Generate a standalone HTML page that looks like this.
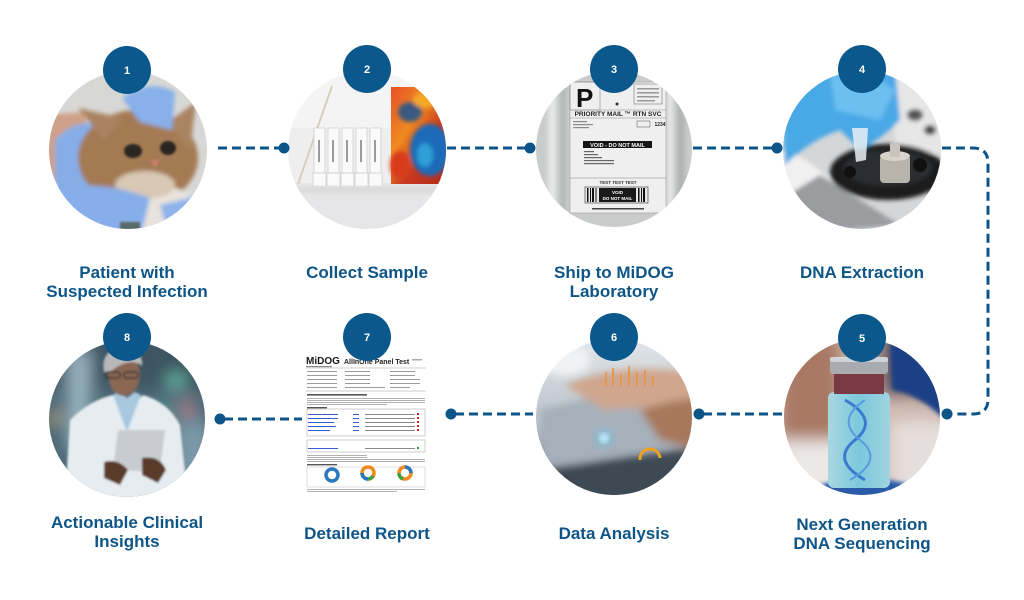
<!DOCTYPE html>
<html><head><meta charset="utf-8">
<style>
html,body{margin:0;padding:0;background:#fff;width:1024px;height:600px;overflow:hidden;}
svg{display:block;}
.lbl{font-family:"Liberation Sans",Arial,sans-serif;font-weight:bold;font-size:17px;fill:#0e5587;text-anchor:middle;}
.num{font-family:"Liberation Sans",Arial,sans-serif;font-weight:bold;font-size:11px;fill:#fff;text-anchor:middle;}
.tiny{font-family:"Liberation Sans",Arial,sans-serif;font-weight:bold;}
</style></head><body>
<svg width="1024" height="600" viewBox="0 0 1024 600" xmlns="http://www.w3.org/2000/svg">
<defs>
<clipPath id="c1"><circle cx="128" cy="150" r="79"/></clipPath>
<clipPath id="c2"><circle cx="367" cy="150" r="79"/></clipPath>
<clipPath id="c3"><circle cx="614" cy="149" r="78"/></clipPath>
<clipPath id="c4"><circle cx="862" cy="150" r="79"/></clipPath>
<clipPath id="c5"><circle cx="862" cy="417" r="78"/></clipPath>
<clipPath id="c6"><circle cx="614" cy="417" r="78"/></clipPath>
<clipPath id="c8"><circle cx="127" cy="419" r="78"/></clipPath>
<filter id="b1"><feGaussianBlur stdDeviation="1"/></filter>
<filter id="b2"><feGaussianBlur stdDeviation="2"/></filter>
<filter id="b4"><feGaussianBlur stdDeviation="4"/></filter>
<filter id="b8"><feGaussianBlur stdDeviation="8"/></filter>
<linearGradient id="parrot" x1="0" y1="0" x2="1" y2="1">
<stop offset="0" stop-color="#e8502a"/><stop offset="0.35" stop-color="#f08a20"/><stop offset="0.6" stop-color="#c83a20"/><stop offset="1" stop-color="#b02818"/>
</linearGradient>
<linearGradient id="lap" x1="0" y1="0" x2="0" y2="1">
<stop offset="0" stop-color="#e4e8ec"/><stop offset="0.55" stop-color="#b8c0c8"/><stop offset="1" stop-color="#56606a"/>
</linearGradient>
<linearGradient id="vial" x1="0" y1="0" x2="1" y2="0">
<stop offset="0" stop-color="#a8d8e0"/><stop offset="0.5" stop-color="#7cc8dc"/><stop offset="1" stop-color="#a0d4e0"/>
</linearGradient>
</defs>

<!-- ============ CIRCLE 1: cat ============ -->
<g clip-path="url(#c1)">
<rect x="45" y="65" width="170" height="170" fill="#d7d8d6"/>
<g filter="url(#b2)">
<path d="M45 115 L85 112 L90 175 L45 185Z" fill="#cfa088"/>
<path d="M55 140 Q75 118 98 125 L108 195 L55 205Z" fill="#86ade6"/>
<ellipse cx="138" cy="158" rx="60" ry="48" fill="#a47a52"/>
<path d="M78 108 L104 140 L122 118Z" fill="#aa8462"/>
<path d="M196 102 L168 122 L190 150Z" fill="#aa8462"/>
<ellipse cx="150" cy="210" rx="48" ry="26" fill="#e8e3dc"/>
<ellipse cx="145" cy="185" rx="30" ry="14" fill="#d8c8b4"/>
<path d="M122 98 Q150 78 175 92 L172 130 L140 122Z" fill="#88b0ea"/>
<path d="M45 195 Q90 175 150 198 L140 240 L45 240Z" fill="#86aeea"/>
<path d="M160 205 L200 195 L210 240 L170 240Z" fill="#8fb4ea"/>
</g>
<g filter="url(#b1)">
<ellipse cx="133" cy="151" rx="9" ry="7" fill="#2a2620"/>
<ellipse cx="168" cy="148" rx="8" ry="7" fill="#2a2620"/>
<path d="M150 160 L160 160 L155 168Z" fill="#c8806e"/>
<rect x="120" y="222" width="20" height="10" fill="#5a6a68"/>
</g>
</g>

<!-- ============ CIRCLE 2: sample kit ============ -->
<g clip-path="url(#c2)">
<rect x="285" y="68" width="165" height="165" fill="#eeeeee"/>
<rect x="285" y="68" width="165" height="60" fill="#f4f4f4"/>
<rect x="285" y="183" width="165" height="50" fill="#e6e6e8"/>
<line x1="332" y1="86" x2="298" y2="184" stroke="#d8cdb8" stroke-width="2"/>
<g fill="#fafafa" stroke="#cfcfcf" stroke-width="0.8">
<rect x="314" y="128" width="11" height="45"/>
<rect x="328" y="128" width="11" height="45"/>
<rect x="342" y="128" width="11" height="45"/>
<rect x="356" y="128" width="11" height="45"/>
<rect x="370" y="128" width="11" height="45"/>
<rect x="313" y="173" width="13" height="14"/>
<rect x="327" y="173" width="13" height="14"/>
<rect x="341" y="173" width="13" height="14"/>
<rect x="355" y="173" width="13" height="14"/>
<rect x="369" y="173" width="13" height="14"/>
</g>
<g fill="#9a9a9a">
<rect x="318" y="140" width="2" height="22"/><rect x="332" y="140" width="2" height="22"/><rect x="346" y="140" width="2" height="22"/><rect x="360" y="140" width="2" height="22"/><rect x="374" y="140" width="2" height="22"/>
</g>
<rect x="391" y="87" width="60" height="97" fill="url(#parrot)"/>
<g filter="url(#b2)">
<ellipse cx="410" cy="112" rx="12" ry="10" fill="#3a5a80"/>
<ellipse cx="430" cy="150" rx="20" ry="26" fill="#1e6ab8"/>
<ellipse cx="425" cy="155" rx="8" ry="12" fill="#2fa0d8"/>
<ellipse cx="400" cy="165" rx="10" ry="14" fill="#d83a1c"/>
<ellipse cx="425" cy="100" rx="12" ry="8" fill="#f4a828"/>
</g>
<rect x="290" y="186" width="150" height="8" fill="#dcdcdc" filter="url(#b2)"/>
</g>

<!-- ============ CIRCLE 3: shipping label ============ -->
<g clip-path="url(#c3)">
<rect x="536" y="70" width="160" height="160" fill="#c9ccca"/>
<g filter="url(#b2)">
<rect x="548" y="70" width="8" height="160" fill="#e6e8e6"/>
<rect x="560" y="70" width="6" height="160" fill="#b4b8b6"/>
<rect x="667" y="70" width="6" height="160" fill="#e4e6e4"/>
<rect x="677" y="70" width="8" height="160" fill="#b0b4b2"/>
</g>
<rect x="570" y="82" width="96" height="131" fill="#efefef" stroke="#9a9a9a" stroke-width="0.6"/>
<rect x="570" y="82" width="30" height="28" fill="none" stroke="#888" stroke-width="0.6"/>
<text x="576" y="107" class="tiny" font-size="26" fill="#111">P</text>
<rect x="634" y="84" width="28" height="20" fill="none" stroke="#777" stroke-width="0.6"/>
<g fill="#999"><rect x="637" y="88" width="22" height="1.5"/><rect x="637" y="92" width="22" height="1.5"/><rect x="637" y="96" width="22" height="1.5"/><rect x="637" y="100" width="18" height="1.5"/></g>
<circle cx="617" cy="104" r="1.5" fill="#333"/>
<line x1="570" y1="110" x2="666" y2="110" stroke="#888" stroke-width="0.6"/>
<text x="618" y="116" class="tiny" font-size="6.5" fill="#222" text-anchor="middle">PRIORITY MAIL ™ RTN SVC</text>
<line x1="570" y1="118" x2="666" y2="118" stroke="#888" stroke-width="0.6"/>
<g fill="#8a8a8a"><rect x="573" y="121" width="14" height="1.2"/><rect x="573" y="124" width="20" height="1.2"/><rect x="573" y="127" width="16" height="1.2"/></g>
<rect x="637" y="121" width="13" height="6" fill="none" stroke="#555" stroke-width="0.5"/>
<text x="660" y="126" class="tiny" font-size="5" fill="#222" text-anchor="middle">1234</text>
<rect x="583" y="141" width="69" height="7" fill="#151515"/>
<text x="617.5" y="146.8" class="tiny" font-size="5.5" fill="#fff" text-anchor="middle">VOID - DO NOT MAIL</text>
<g fill="#666"><rect x="584" y="151" width="10" height="1.2"/><rect x="584" y="154" width="14" height="1.2"/><rect x="584" y="157" width="18" height="1.2"/><rect x="584" y="160" width="30" height="1.2"/><rect x="584" y="163" width="30" height="1.2"/></g>
<line x1="570" y1="178" x2="666" y2="178" stroke="#888" stroke-width="0.6"/>
<text x="618" y="184" class="tiny" font-size="4.5" fill="#333" text-anchor="middle">TEST TEST TEST</text>
<rect x="585" y="187" width="63" height="16" fill="#e8e8e8" stroke="#333" stroke-width="0.6"/>
<g fill="#111"><rect x="587" y="188" width="1.5" height="14"/><rect x="590" y="188" width="1" height="14"/><rect x="592" y="188" width="2" height="14"/><rect x="595.5" y="188" width="1" height="14"/><rect x="638" y="188" width="1.5" height="14"/><rect x="641" y="188" width="1" height="14"/><rect x="643" y="188" width="2" height="14"/></g>
<rect x="599" y="188" width="37" height="14" fill="#1a1a1a"/>
<text x="617.5" y="194" class="tiny" font-size="4.5" fill="#fff" text-anchor="middle">VOID</text>
<text x="617.5" y="200" class="tiny" font-size="4.5" fill="#fff" text-anchor="middle">DO NOT MAIL</text>
<rect x="592" y="208" width="52" height="1.5" fill="#444"/>
</g>

<!-- ============ CIRCLE 4: DNA extraction ============ -->
<g clip-path="url(#c4)">
<rect x="780" y="68" width="165" height="165" fill="#d4d6d8"/>
<g filter="url(#b2)">
<rect x="895" y="68" width="50" height="85" fill="#e6e6e6"/>
<ellipse cx="915" cy="115" rx="8" ry="6" fill="#555"/>
<ellipse cx="930" cy="130" rx="6" ry="5" fill="#444"/>
<path d="M780 150 Q820 160 845 200 L830 235 L780 235Z" fill="#f0f0f0"/>
<path d="M820 175 Q860 200 900 225 L780 235 L780 200Z" fill="#9a9ca0"/>
<ellipse cx="888" cy="172" rx="58" ry="28" fill="#1c1c1e"/>
<ellipse cx="888" cy="168" rx="44" ry="18" fill="#2c2e30"/>
<path d="M780 68 L895 68 L900 120 Q880 140 860 150 L840 130 Q810 140 785 165Z" fill="#4aa8e6"/>
<path d="M830 72 Q870 70 895 90 L880 120 L835 110Z" fill="#6cc0f0"/>
</g>
<circle cx="920" cy="165" r="7" fill="#111"/><circle cx="850" cy="172" r="6" fill="#111"/>
<rect x="880" y="155" width="30" height="28" rx="4" fill="#b8b4ac"/>
<ellipse cx="895" cy="156" rx="15" ry="5" fill="#d8d4cc"/>
<rect x="890" y="143" width="10" height="14" fill="#c8c4bc"/>
<path d="M852 128 L868 128 L866 160 L856 162Z" fill="#e8eef2" opacity="0.85"/>
</g>

<!-- ============ CIRCLE 5: NGS vial ============ -->
<g clip-path="url(#c5)">
<rect x="780" y="335" width="165" height="165" fill="#cdb8ae"/>
<g filter="url(#b8)">
<rect x="780" y="335" width="60" height="110" fill="#a87864"/>
<rect x="780" y="440" width="70" height="60" fill="#ece8e6"/>
<rect x="890" y="420" width="60" height="80" fill="#e6dedc"/>
<rect x="880" y="335" width="60" height="60" fill="#6a5a60"/>
</g>
<g filter="url(#b2)">
<path d="M890 340 Q930 350 945 400 L945 420 Q920 395 892 390Z" fill="#1d3f86"/>
<path d="M820 485 Q870 470 920 488 L920 500 L820 500Z" fill="#2a5aa8"/>
</g>
<rect x="828" y="392" width="62" height="96" rx="6" fill="url(#vial)"/>
<rect x="834" y="372" width="50" height="22" fill="#7a3a44"/>
<rect x="830" y="357" width="58" height="17" rx="3" fill="#a8acb0"/>
<rect x="830" y="357" width="58" height="5" rx="2" fill="#d0d4d8"/>
<path d="M845 400 Q880 420 855 440 Q830 460 865 480" fill="none" stroke="#3a7ad0" stroke-width="3"/>
<path d="M865 400 Q835 420 860 440 Q885 460 850 480" fill="none" stroke="#5a9ae0" stroke-width="2"/>
</g>

<!-- ============ CIRCLE 6: data analysis ============ -->
<g clip-path="url(#c6)">
<rect x="530" y="335" width="170" height="165" fill="url(#lap)"/>
<g filter="url(#b4)">
<path d="M540 410 L700 372 L700 440 L545 470Z" fill="#a6b0ba"/>
<path d="M565 385 Q620 362 690 372 L695 412 Q645 405 605 410Z" fill="#d0a68c"/>
<path d="M640 410 Q670 400 700 398 L700 450 L660 440Z" fill="#a8785c"/>
<path d="M530 470 L700 448 L700 500 L530 500Z" fill="#3e4852"/>
<ellipse cx="565" cy="360" rx="25" ry="16" fill="#f0f2f4"/>
</g>
<g fill="#e8944a" opacity="0.85">
<rect x="605" y="372" width="2" height="14"/><rect x="612" y="368" width="2" height="18"/><rect x="620" y="374" width="2" height="12"/><rect x="628" y="366" width="2" height="20"/><rect x="636" y="372" width="2" height="14"/><rect x="644" y="370" width="2" height="16"/><rect x="652" y="376" width="2" height="10"/>
</g>
<circle cx="604" cy="438" r="5" fill="#e8f8ff" filter="url(#b2)"/>
<circle cx="604" cy="438" r="10" fill="#6ac8f0" opacity="0.4" filter="url(#b4)"/>
<path d="M640 460 A10 10 0 0 1 660 458" fill="none" stroke="#f0a020" stroke-width="3"/>
</g>

<!-- ============ 7: report ============ -->
<g>
<rect x="306" y="355" width="120" height="137" fill="#ffffff"/>
<text x="306" y="364" class="tiny" font-size="10" fill="#1a1a1a">MiDOG</text>
<rect x="306" y="366" width="26" height="1.2" fill="#888"/>
<text x="344" y="364" class="tiny" font-size="7" fill="#222">AllInOne Panel Test</text>
<rect x="412" y="359" width="10" height="1.5" fill="#aaa"/>
<line x1="306" y1="368" x2="426" y2="368" stroke="#999" stroke-width="0.5"/>
<g fill="#9a9a9a">
<rect x="307" y="371" width="30" height="1"/><rect x="345" y="371" width="25" height="1"/><rect x="390" y="371" width="25" height="1"/>
<rect x="307" y="375" width="30" height="1"/><rect x="345" y="375" width="25" height="1"/><rect x="390" y="375" width="25" height="1"/>
<rect x="307" y="379" width="30" height="1"/><rect x="345" y="379" width="25" height="1"/><rect x="390" y="379" width="30" height="1"/>
<rect x="307" y="383" width="30" height="1"/><rect x="345" y="383" width="25" height="1"/><rect x="390" y="383" width="30" height="1"/>
<rect x="307" y="387" width="30" height="1"/><rect x="345" y="387" width="40" height="1"/><rect x="390" y="387" width="20" height="1"/>
</g>
<line x1="306" y1="391" x2="426" y2="391" stroke="#999" stroke-width="0.5"/>
<rect x="307" y="394" width="60" height="1.6" fill="#555"/>
<g fill="#aaa"><rect x="307" y="398" width="118" height="0.9"/><rect x="307" y="400" width="118" height="0.9"/><rect x="307" y="402" width="118" height="0.9"/><rect x="307" y="404" width="80" height="0.9"/></g>
<rect x="307" y="407" width="20" height="1.4" fill="#555"/>
<rect x="307" y="409" width="118" height="27" fill="none" stroke="#999" stroke-width="0.5"/>
<g fill="#3a5ad0"><rect x="308" y="414" width="30" height="1"/><rect x="308" y="418" width="30" height="1"/><rect x="308" y="422" width="26" height="1"/><rect x="308" y="426" width="28" height="1"/><rect x="308" y="430" width="22" height="1"/><rect x="353" y="414" width="6" height="1"/><rect x="353" y="418" width="6" height="1"/><rect x="353" y="422" width="6" height="1"/><rect x="353" y="426" width="6" height="1"/><rect x="353" y="430" width="6" height="1"/></g>
<g fill="#888"><rect x="365" y="414" width="50" height="1"/><rect x="365" y="418" width="50" height="1"/><rect x="365" y="422" width="50" height="1"/><rect x="365" y="426" width="50" height="1"/><rect x="365" y="430" width="50" height="1"/></g>
<g fill="#d02020"><rect x="417" y="413" width="2" height="2"/><rect x="417" y="417" width="2" height="2"/><rect x="417" y="421" width="2" height="2"/><rect x="417" y="425" width="2" height="2"/><rect x="417" y="429" width="2" height="2"/></g>
<rect x="307" y="440" width="118" height="12" fill="none" stroke="#999" stroke-width="0.5"/>
<rect x="308" y="448" width="30" height="1" fill="#3a5ad0"/><rect x="365" y="448" width="50" height="1" fill="#888"/><rect x="417" y="447" width="2" height="2" fill="#20a040"/>
<g fill="#aaa"><rect x="307" y="455" width="60" height="0.9"/><rect x="307" y="457" width="60" height="0.9"/><rect x="307" y="459" width="118" height="0.9"/><rect x="307" y="461" width="118" height="0.9"/></g>
<rect x="307" y="464" width="30" height="1.4" fill="#555"/>
<rect x="307" y="467" width="118" height="20" fill="none" stroke="#bbb" stroke-width="0.5"/>
<circle cx="332" cy="475" r="6" fill="none" stroke="#2a78c0" stroke-width="3.5"/>
<circle cx="368" cy="473" r="6" fill="none" stroke="#f08a1a" stroke-width="3.5"/>
<path d="M362 473 A6 6 0 0 0 368 479" fill="none" stroke="#2a78c0" stroke-width="3.5"/>
<path d="M368 479 A6 6 0 0 0 373 476" fill="none" stroke="#3aa040" stroke-width="3.5"/>
<circle cx="405" cy="473" r="6" fill="none" stroke="#f08a1a" stroke-width="3.5"/>
<path d="M405 467 A6 6 0 0 1 411 473" fill="none" stroke="#2a78c0" stroke-width="3.5"/>
<path d="M399 473 A6 6 0 0 0 403 479" fill="none" stroke="#3aa040" stroke-width="3.5"/>
<g fill="#aaa"><rect x="307" y="489" width="118" height="0.9"/><rect x="307" y="491" width="90" height="0.9"/></g>
</g>

<!-- ============ CIRCLE 8: clinician ============ -->
<g clip-path="url(#c8)">
<rect x="45" y="338" width="165" height="165" fill="#4e6a78"/>
<g filter="url(#b8)">
<rect x="45" y="338" width="165" height="50" fill="#3c5462"/>
<rect x="68" y="350" width="22" height="100" fill="#9ab4c0"/>
<circle cx="176" cy="381" r="8" fill="#6ec8b0"/>
<circle cx="187" cy="408" r="7" fill="#e68a98"/>
<circle cx="55" cy="418" r="7" fill="#c8a870"/>
<circle cx="163" cy="412" r="7" fill="#50c0a0"/>
<rect x="175" y="420" width="35" height="60" fill="#7a98a8"/>
</g>
<g filter="url(#b1)">
<path d="M70 420 Q90 400 113 395 L127 410 L143 395 Q168 402 180 425 L188 500 L65 500Z" fill="#e6ecf0"/>
<path d="M113 395 L127 432 L141 395 L135 392 L127 398 L118 392Z" fill="#a8c8e0"/>
<ellipse cx="124" cy="375" rx="16" ry="21" fill="#8a6652"/>
<path d="M104 372 Q100 350 122 348 Q144 350 142 366 Q130 356 110 372Z" fill="#b8b8b8"/>
<rect x="106" y="372" width="14" height="6" rx="2" fill="none" stroke="#303030" stroke-width="1.4"/>
<rect x="124" y="372" width="14" height="6" rx="2" fill="none" stroke="#303030" stroke-width="1.4"/>
<path d="M118 430 L165 430 L160 472 L113 470Z" fill="#c8ccd0"/>
<path d="M104 462 Q118 458 128 470 L120 485 L104 478Z" fill="#5a3a2c"/>
<path d="M142 458 Q160 455 166 470 L158 483 L142 475Z" fill="#5a3a2c"/>
</g>
</g>

<!-- ============ connectors ============ -->
<g stroke="#0d5589" stroke-width="3" fill="none" stroke-dasharray="9 5">
<line x1="218" y1="148" x2="280" y2="148"/>
<line x1="447" y1="148" x2="526" y2="148"/>
<line x1="693" y1="148" x2="773" y2="148"/>
<path d="M942 148 L973 148 Q988 148 988 163 L988 399 Q988 414 973 414 L951 414"/>
<line x1="703" y1="414" x2="782" y2="414"/>
<line x1="455" y1="414" x2="533" y2="414"/>
<line x1="224" y1="419" x2="302" y2="419"/>
</g>
<g fill="#0d5589">
<circle cx="284" cy="148" r="5.5"/>
<circle cx="530" cy="148" r="5.5"/>
<circle cx="777" cy="148" r="5.5"/>
<circle cx="947" cy="414" r="5.5"/>
<circle cx="699" cy="414" r="5.5"/>
<circle cx="451" cy="414" r="5.5"/>
<circle cx="220" cy="419" r="5.5"/>
</g>

<!-- ============ badges ============ -->
<g fill="#0b588c">
<circle cx="127" cy="70" r="24"/>
<circle cx="367" cy="69" r="24"/>
<circle cx="614" cy="69" r="24"/>
<circle cx="862" cy="69" r="24"/>
<circle cx="862" cy="338" r="24"/>
<circle cx="614" cy="337" r="24"/>
<circle cx="367" cy="337" r="24"/>
<circle cx="127" cy="337" r="24"/>
</g>
<text x="127" y="74" class="num">1</text>
<text x="367" y="73" class="num">2</text>
<text x="614" y="73" class="num">3</text>
<text x="862" y="73" class="num">4</text>
<text x="862" y="342" class="num">5</text>
<text x="614" y="341" class="num">6</text>
<text x="367" y="341" class="num">7</text>
<text x="127" y="341" class="num">8</text>

<!-- ============ labels ============ -->
<text x="127" y="278" class="lbl">Patient with</text>
<text x="127" y="297" class="lbl">Suspected Infection</text>
<text x="367" y="278" class="lbl">Collect Sample</text>
<text x="614" y="278" class="lbl">Ship to MiDOG</text>
<text x="614" y="297" class="lbl">Laboratory</text>
<text x="862" y="278" class="lbl">DNA Extraction</text>

<text x="127" y="528" class="lbl">Actionable Clinical</text>
<text x="127" y="547" class="lbl">Insights</text>
<text x="367" y="539" class="lbl">Detailed Report</text>
<text x="614" y="539" class="lbl">Data Analysis</text>
<text x="862" y="530" class="lbl">Next Generation</text>
<text x="862" y="549" class="lbl">DNA Sequencing</text>
</svg>
</body></html>
